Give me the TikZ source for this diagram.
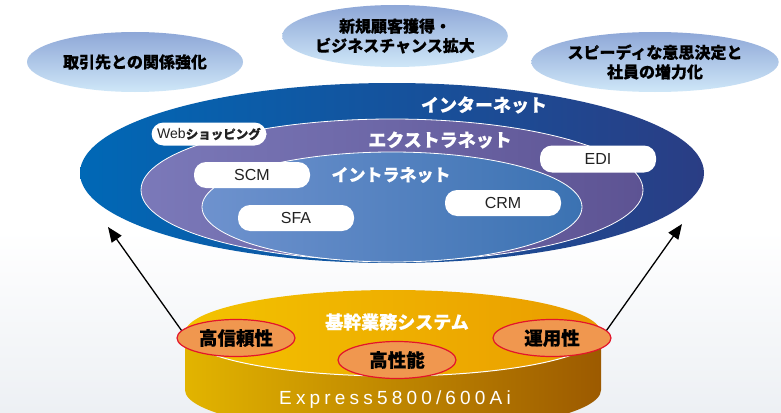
\documentclass[tikz,border=0pt]{standalone}
\usepackage{fontspec}
\setmainfont{Liberation Sans}
\newfontfamily\jp[BoldFeatures={FakeBold=0.35}]{Noto Sans CJK JP}
\usetikzlibrary{arrows.meta,shapes.geometric}

\definecolor{outerL}{HTML}{0068B6}
\definecolor{outerR}{HTML}{2A3D84}
\definecolor{midL}{HTML}{7B79B9}
\definecolor{midR}{HTML}{5D5393}
\definecolor{inL}{HTML}{6E92CE}
\definecolor{inR}{HTML}{3B72B2}
\definecolor{goalT}{HTML}{8EA7D7}
\definecolor{goalB}{HTML}{CFE7F8}
\definecolor{cylTopL}{HTML}{F3C300}
\definecolor{cylTopR}{HTML}{EA9C00}
\definecolor{cylSideL}{HTML}{E2B400}
\definecolor{cylSideR}{HTML}{9C5A00}
\definecolor{featFill}{HTML}{F0974F}
\definecolor{featLine}{HTML}{E3152B}
\definecolor{bgBot}{HTML}{EDF0F4}
\definecolor{boxText}{HTML}{222222}

\begin{document}
\begin{tikzpicture}[x=1pt,y=-1pt,
  goal/.style={ellipse, minimum width=216pt, minimum height=60pt, inner sep=0pt,
    top color=goalT, bottom color=goalB, align=center, text=black,
    font=\jp\bfseries\fontsize{16}{19.5}\selectfont},
  netring/.style={ellipse, inner sep=0pt},
  netlabel/.style={text=white, inner sep=0pt, font=\jp\bfseries\fontsize{18}{20}\selectfont},
  appbox/.style={rounded corners=12pt, fill=white, minimum width=116pt,
    minimum height=26pt, inner sep=0pt, text=boxText, font=\fontsize{16}{18}\selectfont},
  feat/.style={ellipse, fill=featFill, draw=featLine, line width=1.2pt,
    minimum width=118pt, minimum height=37pt, inner sep=0pt,
    font=\jp\bfseries\fontsize{18.5}{20}\selectfont},
  link/.style={line width=1.3pt, -{Triangle[length=15pt,width=12pt]}}
]
\useasboundingbox (0,0) rectangle (781,412);
% background
\fill[white] (0,0) rectangle (781,412);
\shade[top color=white, bottom color=bgBot] (0,230) rectangle (781,412);

% goals
\node[goal] (g1) at (135,62) {取引先との関係強化};
\node[goal, minimum height=62pt] (g2) at (395,36) {新規顧客獲得・\\ビジネスチャンス拡大};
\node[goal] (g3) at (655,62) {スピーディな意思決定と\\社員の増力化};

% network rings
\node[netring, minimum width=624pt, minimum height=180pt,
  left color=outerL, right color=outerR] (internet) at (392,173) {};
\node[netring, minimum width=502pt, minimum height=142pt, draw=white, line width=0.8pt,
  left color=midL, right color=midR] (extranet) at (392,190) {};
\node[netring, minimum width=380pt, minimum height=110pt, draw=white, line width=0.8pt,
  left color=inL, right color=inR] (intranet) at (392,207) {};

\node[netlabel] (linternet) at (484,105) {インターネット};
\node[netlabel] (lextranet) at (440,140) {エクストラネット};
\node[netlabel, font=\jp\bfseries\fontsize{17}{20}\selectfont] (lintranet) at (391,175) {イントラネット};

% application boxes
\node[appbox, minimum width=115pt, minimum height=23pt] (web) at (209,134)
  {{\fontsize{14}{16}\selectfont Web}{\jp\bfseries\fontsize{12.5}{16}\selectfont ショッピング}};
\node[appbox] (scm) at (252,175) {SCM};
\node[appbox, minimum height=27pt] (edi) at (598,159) {EDI};
\node[appbox] (sfa) at (296,218) {SFA};
\node[appbox] (crm) at (503,203) {CRM};

% cylinder
\shade[left color=cylSideL, right color=cylSideR]
  (185,333) -- (185,390) arc[start angle=180, end angle=360, x radius=208pt, y radius=43pt]
  -- (601,333) -- cycle;
\shade[left color=cylTopL, right color=cylTopR] (393,333) ellipse [x radius=208pt, y radius=43pt];
\draw[white, line width=1pt] (185,333) arc[start angle=180, end angle=360, x radius=208pt, y radius=43pt];

\node[text=white, font=\jp\bfseries\fontsize{18}{20}\selectfont] (kikan) at (397,322) {基幹業務システム};
\node[text=white, font=\fontsize{19}{20}\selectfont\addfontfeature{LetterSpace=22}] (express) at (395,400) {Express5800/600Ai};

% features
\node[feat] (hishin) at (236,338) {高信頼性};
\node[feat] (koseino) at (397,360) {高性能};
\node[feat] (unyo) at (552,338) {運用性};

% arrows
\coordinate (ltip) at (108,227);
\coordinate (rtip) at (682,224);
\draw[link] (hishin.172) -- (ltip);
\draw[link] (unyo.8) -- (rtip);
\end{tikzpicture}
\end{document}
